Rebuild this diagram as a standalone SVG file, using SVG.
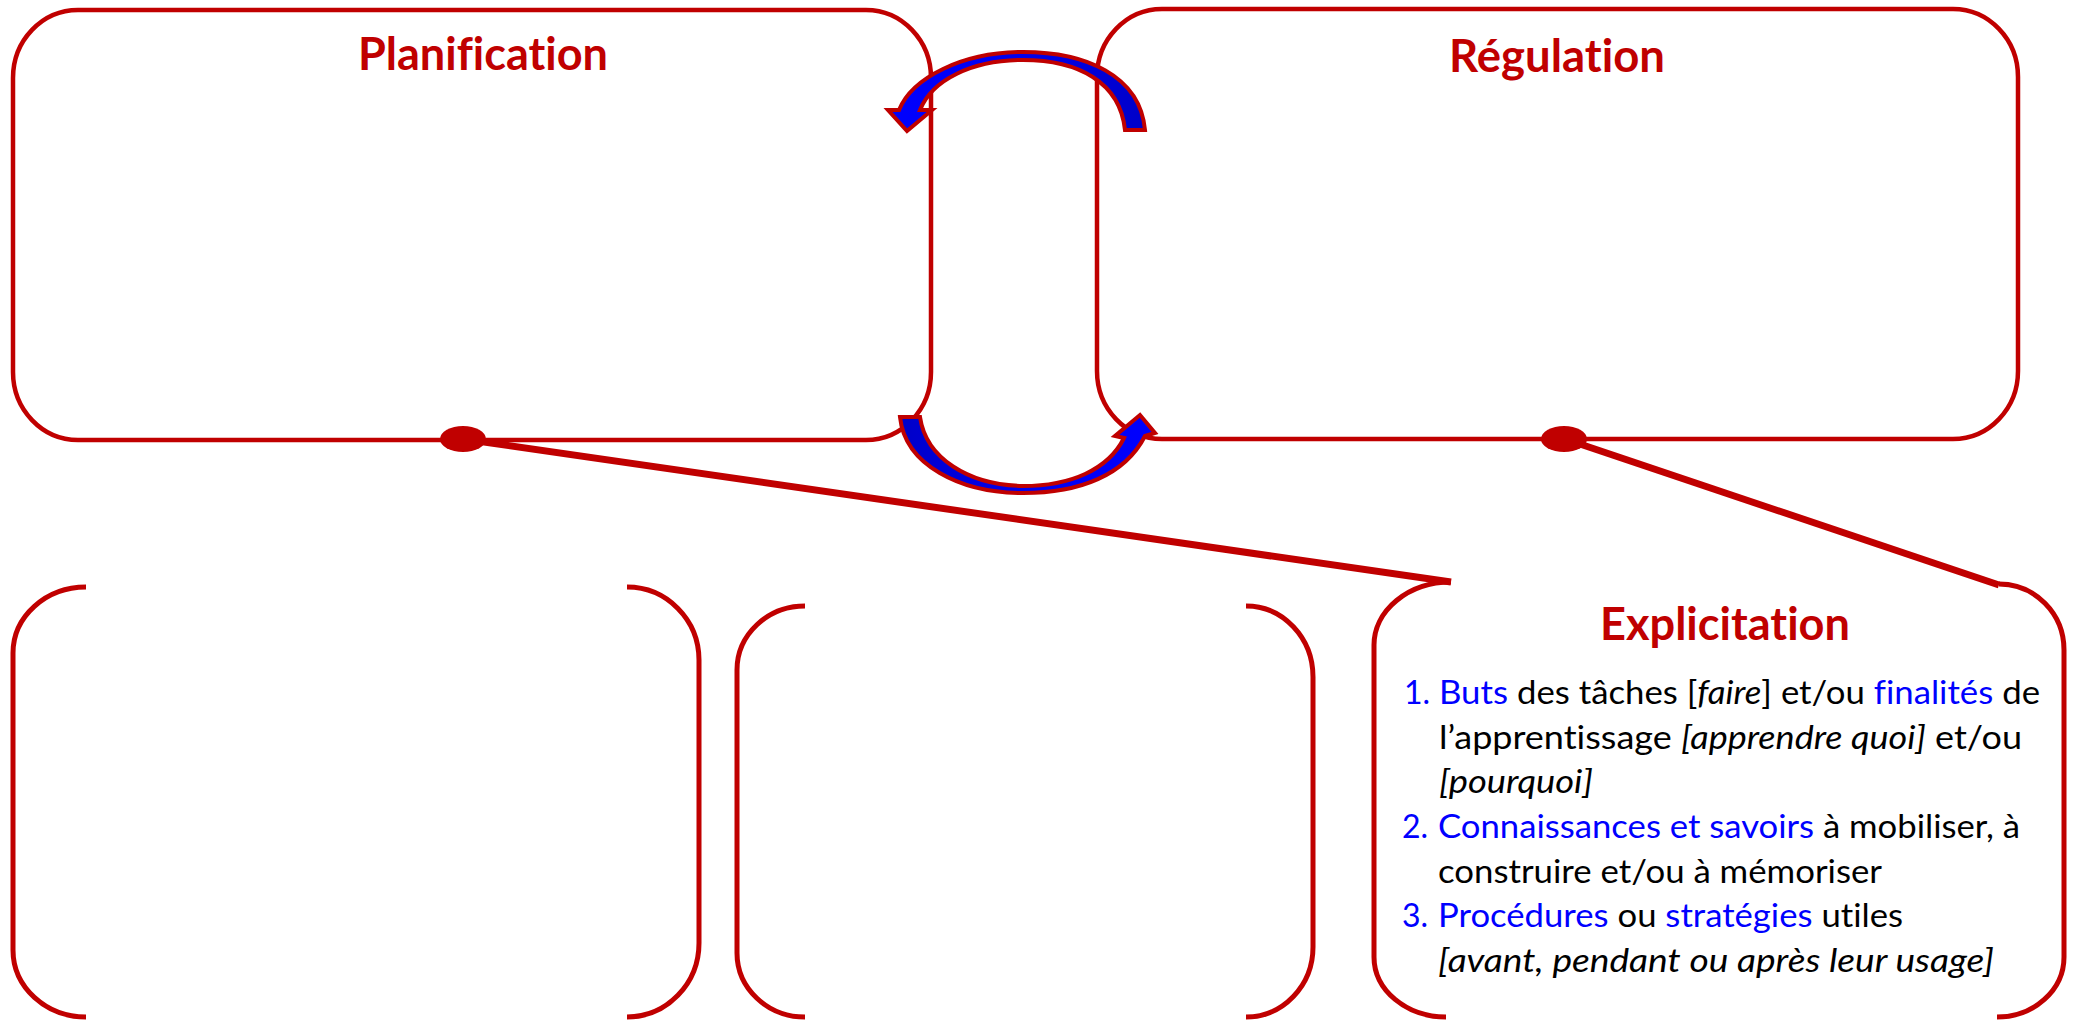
<svg xmlns="http://www.w3.org/2000/svg" width="2082" height="1020" viewBox="0 0 2082 1020">
<defs>
<linearGradient id="gTop" x1="0" y1="0" x2="1" y2="0">
<stop offset="0" stop-color="#0000ff"/><stop offset="0.5" stop-color="#0000f0"/><stop offset="1" stop-color="#0000c8"/>
</linearGradient>
<linearGradient id="gBot" x1="0" y1="0" x2="1" y2="0">
<stop offset="0" stop-color="#0000c8"/><stop offset="0.5" stop-color="#0000f0"/><stop offset="1" stop-color="#0000ff"/>
</linearGradient>
<style>
text{font-variant-ligatures:none;font-feature-settings:"liga" 0,"clig" 0}
.box{fill:none;stroke:#c00000;stroke-width:4.5}
.br{fill:none;stroke:#c00000;stroke-width:5;stroke-linecap:butt}
.con{stroke:#c00000;stroke-width:7;fill:none}
.dot{fill:#c00000}
.arr{stroke:#c00000;stroke-width:4;stroke-linejoin:miter}
.title{font-family:Lato,"Liberation Sans",sans-serif;font-weight:bold;font-size:46px;fill:#c00000;text-anchor:middle}
.li{font-family:Lato,"Liberation Sans",sans-serif;font-size:32px;fill:#000}
.b{fill:#0000ff}
.i{font-style:italic}
</style>
</defs>
<rect width="2082" height="1020" fill="#fff"/>

<g id="planification">
<rect class="box" x="13" y="10" width="918" height="430" rx="65" ry="68"/>
<text class="title" x="483" y="70" textLength="250" lengthAdjust="spacingAndGlyphs">Planification</text>
</g>

<g id="regulation">
<rect class="box" x="1097" y="9" width="921" height="430" rx="65" ry="68"/>
<text class="title" x="1557" y="72" textLength="216" lengthAdjust="spacingAndGlyphs">Régulation</text>
</g>

<g id="cycle-arrows">
<path class="arr" fill="url(#gTop)" d="M 1145 130 C 1140 75 1085 52 1023 52 C 962 52 912 78 899 110 L 888 110 L 907 131 L 932 110 L 920 110 C 932 80 972 60 1023 60 C 1078 60 1120 82 1125 130 Z"/>
<path class="arr" fill="url(#gBot)" d="M 900 417 L 920 417 C 926 458 968 485 1023 486 C 1070 486 1108 470 1124 438 L 1115 436 L 1140 415 L 1155 433 L 1145 436 C 1125 475 1080 493 1023 493 C 960 493 905 465 900 417 Z"/>
</g>

<g id="box-left">
<path class="br" d="M 86 587 A 73 66 0 0 0 13 653 V 950 A 73 67 0 0 0 86 1017"/>
<path class="br" d="M 627 587 A 72 73 0 0 1 699 660 V 943 A 72 74 0 0 1 627 1017"/>
</g>

<g id="box-middle">
<path class="br" d="M 805 606 A 68 64 0 0 0 737 670 V 953 A 68 64 0 0 0 805 1017"/>
<path class="br" d="M 1246 606 A 67 71 0 0 1 1313 677 V 947 A 67 70 0 0 1 1246 1017"/>
</g>

<g id="explicitation">
<path class="br" d="M 1451 582 A 77 63 0 0 0 1374 645 V 957 A 72 60 0 0 0 1446 1017"/>
<path class="br" d="M 1999 584 A 65 66 0 0 1 2064 650 V 957 A 67 60 0 0 1 1997 1017"/>
<text class="title" x="1725" y="640" textLength="250" lengthAdjust="spacingAndGlyphs">Explicitation</text>
<text class="li b" x="1404" y="704">1.</text>
<text class="li" x="1439" y="704" textLength="601" lengthAdjust="spacingAndGlyphs"><tspan class="b">Buts</tspan> des tâches [<tspan class="i">faire</tspan>] et/ou <tspan class="b">finalités</tspan> de</text>
<text class="li" x="1439" y="749" textLength="583" lengthAdjust="spacingAndGlyphs">l’apprentissage <tspan class="i">[apprendre quoi]</tspan> et/ou</text>
<text class="li i" x="1439" y="793" textLength="154" lengthAdjust="spacingAndGlyphs">[pourquoi]</text>
<text class="li b" x="1402" y="838">2.</text>
<text class="li" x="1438" y="838" textLength="582" lengthAdjust="spacingAndGlyphs"><tspan class="b">Connaissances et savoirs</tspan> à mobiliser, à</text>
<text class="li" x="1438" y="883" textLength="444" lengthAdjust="spacingAndGlyphs">construire et/ou à mémoriser</text>
<text class="li b" x="1402" y="927">3.</text>
<text class="li" x="1438" y="927" textLength="465" lengthAdjust="spacingAndGlyphs"><tspan class="b">Procédures</tspan> ou <tspan class="b">stratégies</tspan> utiles</text>
<text class="li i" x="1438" y="972" textLength="556" lengthAdjust="spacingAndGlyphs">[avant, pendant ou après leur usage]</text>
</g>

<g id="connectors">
<line class="con" x1="470" y1="440" x2="1451" y2="582"/>
<line class="con" x1="1568" y1="440" x2="1999" y2="585"/>
<ellipse class="dot" cx="463" cy="439" rx="23" ry="13"/>
<ellipse class="dot" cx="1564" cy="439" rx="23" ry="13"/>
</g>
</svg>
